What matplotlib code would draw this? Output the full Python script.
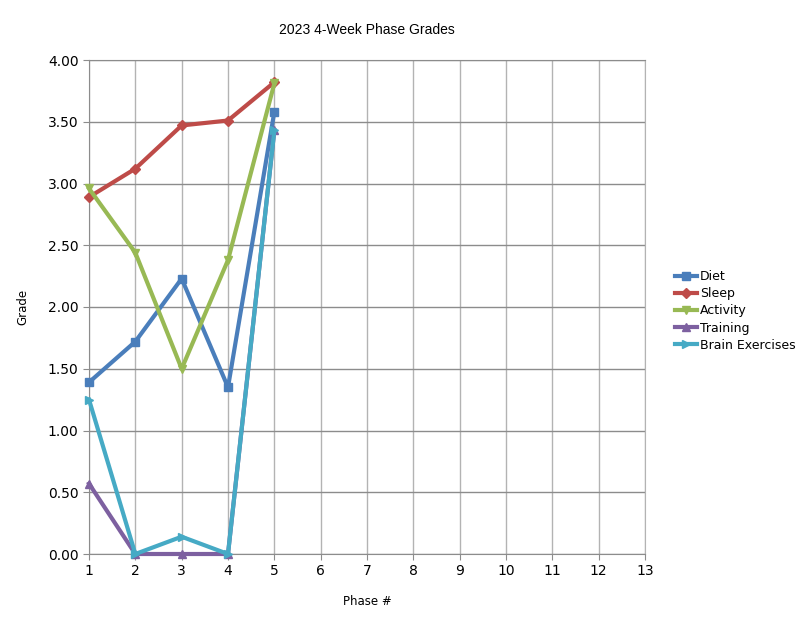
import matplotlib
matplotlib.use("Agg")
import matplotlib.pyplot as plt
import numpy as np

phases = [1, 2, 3, 4, 5]
diet = [1.39, 1.72, 2.23, 1.35, 3.58]
sleep = [2.89, 3.12, 3.47, 3.51, 3.82]
activity = [2.96, 2.44, 1.50, 2.38, 3.81]
training = [0.57, 0.00, 0.00, 0.00, 3.43]
brain = [1.25, 0.00, 0.14, 0.00, 3.43]

series = [
    ("Diet", diet, "#4a7ebb", "s"),
    ("Sleep", sleep, "#be4b48", "D"),
    ("Activity", activity, "#98b954", "v"),
    ("Training", training, "#7d60a0", "^"),
    ("Brain Exercises", brain, "#46aac5", ">"),
]

fig = plt.figure(figsize=(8.03, 6.23), dpi=100)
ax = fig.add_axes([89 / 803, 1 - 554 / 623, (645 - 89) / 803, (554 - 60) / 623])

for name, vals, color, marker in series:
    ms = 5 if marker == "D" else 6
    ax.plot(phases, vals, color=color, linewidth=3, marker=marker,
            markersize=ms, label=name, clip_on=False, zorder=3)

ax.set_xlim(1, 13)
ax.set_ylim(0, 4)
ax.set_xticks(np.arange(1, 14))
ax.set_yticks(np.arange(0, 4.01, 0.5))
ax.set_yticklabels([f"{v:.2f}" for v in np.arange(0, 4.01, 0.5)])
ax.xaxis.grid(True, color="#b3b3b3", linewidth=1)
ax.yaxis.grid(True, color="#8c8c8c", linewidth=1)
ax.set_axisbelow(True)
ax.spines["top"].set_color("#8c8c8c")
ax.spines["bottom"].set_color("#8c8c8c")
ax.spines["left"].set_color("#8c8c8c")
ax.spines["right"].set_color("#b3b3b3")
ax.tick_params(direction="out", length=4, color="#8c8c8c", labelsize=10)

ax.set_title("2023 4-Week Phase Grades", fontsize=10, family="Liberation Sans", pad=19)
ax.set_xlabel("Phase #", fontsize=8.5, labelpad=12)
ax.set_ylabel("Grade", fontsize=8.5, labelpad=13)

ax.legend(loc="center left", bbox_to_anchor=(1.054, 0.492), frameon=False,
          fontsize=9, handlelength=1.75, handletextpad=0.25, labelspacing=0.33,
          borderaxespad=0, borderpad=0)

fig.savefig("out.png", dpi=100)
